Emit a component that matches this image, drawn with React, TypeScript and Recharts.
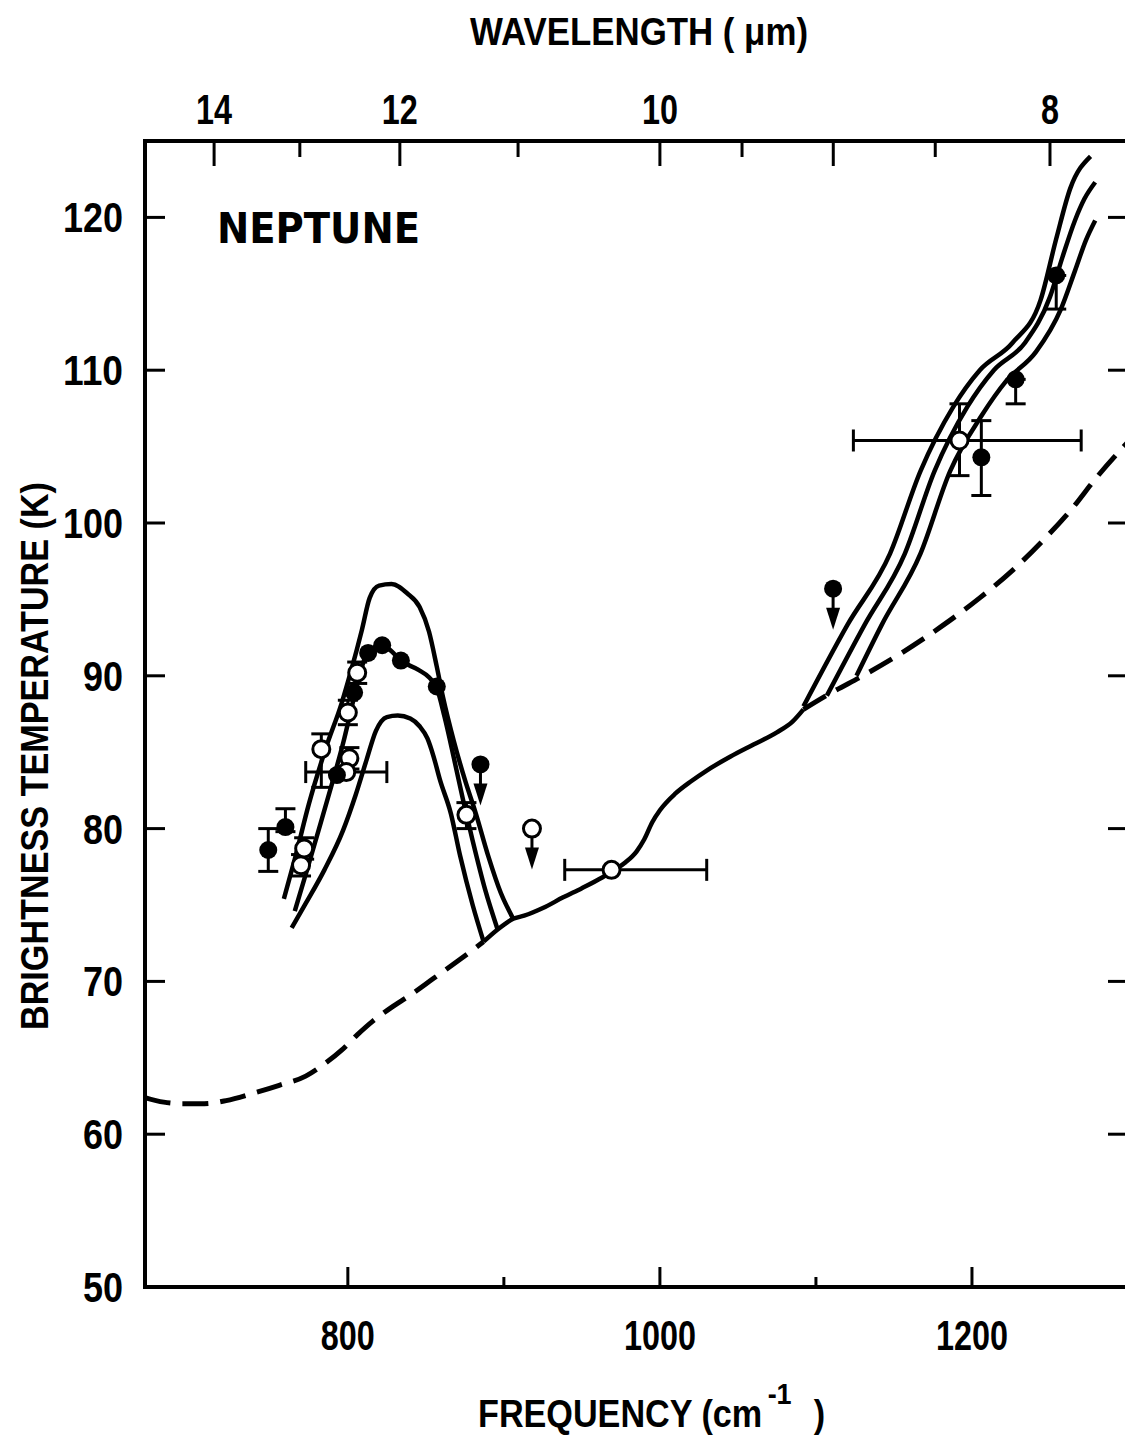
import React from 'react';
import { ComposedChart, Line, Scatter, XAxis, YAxis, ErrorBar } from 'recharts';

// ---------------- axes ----------------
const freqDomain: [number, number] = [670, 1300];
const tempDomain: [number, number] = [50, 125];
const freqTicks = [800, 900, 1000, 1100, 1200];
const freqTickLabels = ['800', '', '1000', '', '1200'];
const wavelengthTicks = [14, 13, 12, 11, 10, 9.5, 9, 8.5, 8];
const wavelengthTickLabels = ['14', '', '12', '', '10', '', '', '', '8'];
const wavelengthLongTicks = [14, 12, 10, 9, 8];
const tempTicks = [50, 60, 70, 80, 90, 100, 110, 120];
const rightTempTicks = [60, 70, 80, 90, 100, 110, 120];

// ---------------- baseline model ----------------
const baselineLeft = [
  { f: 670, t: 62.4 }, { f: 682, t: 62.1 }, { f: 695, t: 62.0 }, { f: 708, t: 62.0 },
  { f: 722, t: 62.2 }, { f: 740, t: 62.7 }, { f: 756, t: 63.2 }, { f: 773, t: 63.8 },
  { f: 785, t: 64.6 }, { f: 796, t: 65.5 }, { f: 806, t: 66.5 }, { f: 816, t: 67.4 },
  { f: 828, t: 68.3 }, { f: 840, t: 69.1 }, { f: 855, t: 70.2 }, { f: 870, t: 71.3 },
  { f: 887, t: 72.6 },
];
const baselineMid = [
  { f: 887, t: 72.6 }, { f: 896, t: 73.4 }, { f: 906, t: 74.1 }, { f: 913, t: 74.3 },
  { f: 925, t: 74.8 }, { f: 938, t: 75.5 }, { f: 950, t: 76.1 }, { f: 963, t: 76.8 },
  { f: 971, t: 77.3 }, { f: 978, t: 77.8 }, { f: 985, t: 78.5 }, { f: 990, t: 79.3 },
  { f: 995, t: 80.4 }, { f: 1000, t: 81.2 }, { f: 1010, t: 82.3 }, { f: 1020, t: 83.1 },
  { f: 1030, t: 83.8 }, { f: 1045, t: 84.7 }, { f: 1060, t: 85.5 }, { f: 1075, t: 86.3 },
  { f: 1085, t: 87.0 }, { f: 1092, t: 87.8 },
];
const baselineRight = [
  { f: 1092, t: 87.8 }, { f: 1110, t: 88.9 }, { f: 1130, t: 90.0 }, { f: 1155, t: 91.5 },
  { f: 1180, t: 93.2 }, { f: 1205, t: 95.1 }, { f: 1226, t: 96.9 }, { f: 1245, t: 98.8 },
  { f: 1263, t: 100.8 }, { f: 1280, t: 103.0 }, { f: 1300, t: 105.3 },
];

// ---------------- 12 um band models ----------------
const bandUpper = [
  { f: 759, t: 75.4 }, { f: 766, t: 78.0 }, { f: 775, t: 81.6 }, { f: 786, t: 85.3 },
  { f: 796, t: 88.2 }, { f: 802, t: 90.3 }, { f: 809, t: 93.0 }, { f: 814, t: 95.1 },
  { f: 820, t: 95.9 }, { f: 828, t: 96.0 }, { f: 838, t: 95.4 }, { f: 846, t: 94.5 },
  { f: 852, t: 92.9 }, { f: 857, t: 90.6 }, { f: 861, t: 88.6 }, { f: 868, t: 85.7 },
  { f: 875, t: 83.2 }, { f: 882, t: 81.0 }, { f: 890, t: 78.2 }, { f: 898, t: 75.8 },
  { f: 906, t: 74.1 },
];
const bandMiddle = [
  { f: 766, t: 74.6 }, { f: 773, t: 77.0 }, { f: 781, t: 79.8 }, { f: 790, t: 83.0 },
  { f: 797, t: 85.6 }, { f: 804, t: 88.6 }, { f: 809, t: 90.6 }, { f: 813, t: 91.5 },
  { f: 822, t: 92.0 }, { f: 828, t: 91.6 }, { f: 834, t: 91.0 }, { f: 845, t: 90.4 },
  { f: 852, t: 89.9 }, { f: 857, t: 89.2 }, { f: 862, t: 87.3 }, { f: 868, t: 84.6 },
  { f: 874, t: 81.8 }, { f: 880, t: 79.2 }, { f: 888, t: 76.0 }, { f: 896, t: 73.4 },
];
const bandLower = [
  { f: 764, t: 73.5 }, { f: 773, t: 75.1 }, { f: 785, t: 77.3 }, { f: 797, t: 79.9 },
  { f: 805, t: 82.2 }, { f: 812, t: 84.5 }, { f: 818, t: 86.4 }, { f: 825, t: 87.3 },
  { f: 832, t: 87.4 }, { f: 840, t: 87.2 }, { f: 846, t: 86.7 }, { f: 851, t: 85.9 },
  { f: 855, t: 84.7 }, { f: 859, t: 83.2 }, { f: 866, t: 81.0 }, { f: 872, t: 78.2 },
  { f: 880, t: 75.0 }, { f: 887, t: 72.6 },
];

// ---------------- 8 um band models ----------------
const highUpper = [
  { f: 1092, t: 88.0 }, { f: 1120, t: 93.3 }, { f: 1147.5, t: 98.0 }, { f: 1167, t: 103.4 },
  { f: 1188, t: 107.6 }, { f: 1205, t: 110.0 }, { f: 1226, t: 111.8 }, { f: 1244, t: 114.6 },
  { f: 1254, t: 118.6 }, { f: 1263, t: 121.9 }, { f: 1276, t: 124.0 },
];
const highMiddle = [
  { f: 1107, t: 88.7 }, { f: 1131, t: 93.3 }, { f: 1157, t: 98.0 }, { f: 1176, t: 103.4 },
  { f: 1197, t: 107.6 }, { f: 1214, t: 110.0 }, { f: 1234, t: 111.8 }, { f: 1250, t: 114.8 },
  { f: 1258, t: 117.4 }, { f: 1266, t: 119.8 }, { f: 1272, t: 121.2 }, { f: 1279, t: 122.3 },
];
const highLower = [
  { f: 1126, t: 90.0 }, { f: 1142, t: 93.3 }, { f: 1167, t: 98.0 }, { f: 1186, t: 103.4 },
  { f: 1206, t: 107.0 }, { f: 1222, t: 109.3 }, { f: 1241, t: 111.2 }, { f: 1257, t: 114.0 },
  { f: 1266, t: 116.5 }, { f: 1273, t: 118.5 }, { f: 1279, t: 119.8 },
];

// ---------------- observations ----------------
const filledPlain = [
  { f: 793, t: 83.5 }, { f: 804, t: 88.9 }, { f: 813, t: 91.5 }, { f: 822, t: 92.0 },
  { f: 834, t: 91.0 }, { f: 857, t: 89.3 },
];
const filledErrY = [
  { f: 749, t: 78.6, ey: [1.4, 1.4] }, { f: 760, t: 80.1, ey: [0.3, 1.2] },
  { f: 1206, t: 104.3, ey: [2.5, 2.4] }, { f: 1228, t: 109.4, ey: [1.6, 0] },
  { f: 1254, t: 116.2, ey: [2.2, 0] },
];
const openErrY = [
  { f: 770, t: 77.6, ey: [0.7, 0.7] }, { f: 772, t: 78.7, ey: [0.7, 0.7] },
  { f: 783, t: 85.2, ey: [2.5, 1.0] }, { f: 801, t: 84.6, ey: [0.7, 0.7] },
  { f: 800, t: 87.6, ey: [0.8, 0.8] }, { f: 806, t: 90.2, ey: [0.7, 0.7] },
  { f: 876, t: 80.9, ey: [0.9, 0.8] },
];
const openErrX = [
  { f: 799, t: 83.7, ex: [26, 26] }, { f: 969, t: 77.3, ex: [30, 61] },
];
const openErrXY = [
  { f: 1192, t: 105.4, ex: [68, 78], ey: [2.3, 2.4] },
];
const filledUpperLimits = [{ f: 885, t: 84.2 }, { f: 1111, t: 95.7 }];
const openUpperLimits = [{ f: 918, t: 80.0 }];

// ---------------- rendering helpers ----------------
const CHART_W = 1160;
const CHART_H = 1449;
const PLOT_LEFT = 145;
const PLOT_TOP = 141;
const PLOT_RIGHT = 1128;
const PLOT_BOTTOM = 1287;
const NUM_FONT = "'Liberation Sans', Arial, sans-serif";

const FilledDot = (p: any) => <circle cx={p.cx} cy={p.cy} r={9} fill="#000" />;
const OpenDot = (p: any) => (
  <circle cx={p.cx} cy={p.cy} r={8.5} fill="#fff" stroke="#000" strokeWidth={3} />
);
const LimitDot = (open: boolean) => (p: any) => (
  <g>
    <line x1={p.cx} x2={p.cx} y1={p.cy} y2={p.cy + 24} stroke="#000" strokeWidth={3} />
    <polygon
      points={`${p.cx - 7},${p.cy + 19} ${p.cx + 7},${p.cy + 19} ${p.cx},${p.cy + 41}`}
      fill="#000"
    />
    <circle cx={p.cx} cy={p.cy} r={open ? 8.5 : 9} fill={open ? '#fff' : '#000'} stroke="#000" strokeWidth={open ? 3 : 0} />
  </g>
);

const BottomTick = (props: any) => {
  const { x, y, payload } = props;
  const i = freqTicks.indexOf(payload.value);
  const label = i >= 0 ? freqTickLabels[i] : '';
  return (
    <g>
      <line x1={x} x2={x} y1={y} y2={y - (label ? 20 : 10)} stroke="#000" strokeWidth={3} />
      {label && (
        <text x={x} y={y + 63} textAnchor="middle" fontFamily={NUM_FONT} fontWeight="bold"
          fontSize={42} textLength={label.length * 18} lengthAdjust="spacingAndGlyphs" fill="#000">
          {label}
        </text>
      )}
    </g>
  );
};

const TopTick = (props: any) => {
  const { x, y, payload } = props;
  const i = wavelengthTicks.findIndex((w) => Math.abs(10000 / w - payload.value) < 0.01);
  const w = wavelengthTicks[i];
  const label = i >= 0 ? wavelengthTickLabels[i] : '';
  const long = wavelengthLongTicks.includes(w);
  return (
    <g>
      <line x1={x} x2={x} y1={y} y2={y + (long ? 25 : 16)} stroke="#000" strokeWidth={3} />
      {label && (
        <text x={x} y={y - 17} textAnchor="middle" fontFamily={NUM_FONT} fontWeight="bold"
          fontSize={42} textLength={label.length * 18} lengthAdjust="spacingAndGlyphs" fill="#000">
          {label}
        </text>
      )}
    </g>
  );
};

const LeftTick = (props: any) => {
  const { x, y, payload } = props;
  const label = String(payload.value);
  return (
    <g>
      {payload.value > tempDomain[0] && (
        <line x1={x} x2={x + 20} y1={y} y2={y} stroke="#000" strokeWidth={3} />
      )}
      <text x={x - 22} y={y + 15} textAnchor="end" fontFamily={NUM_FONT} fontWeight="bold"
        fontSize={42} textLength={label.length * 20} lengthAdjust="spacingAndGlyphs" fill="#000">
        {label}
      </text>
    </g>
  );
};

const RightTick = (props: any) => {
  const { x, y } = props;
  return <line x1={x - 20} x2={x} y1={y} y2={y} stroke="#000" strokeWidth={3} />;
};

const axisLine = { stroke: '#000', strokeWidth: 4, strokeLinecap: 'square' as const };

const curve = (data: any[], key: string, dashed = false) => (
  <Line
    key={key}
    data={data}
    dataKey="t"
    xAxisId="b"
    yAxisId="l"
    type="monotone"
    stroke="#000"
    strokeWidth={dashed ? 5 : 4.5}
    strokeDasharray={dashed ? '26 12' : undefined}
    dot={false}
    activeDot={false}
    isAnimationActive={false}
  />
);

export default function App() {
  return (
    <div style={{ position: 'absolute', left: 0, top: 0, width: 1125, height: 1449, overflow: 'hidden', background: '#fff' }}>
      <ComposedChart
        width={CHART_W}
        height={CHART_H}
        margin={{ top: 0, right: 0, bottom: 0, left: 0 }}
      >
        <XAxis xAxisId="b" dataKey="f" type="number" domain={freqDomain} allowDataOverflow
          ticks={freqTicks} interval={0} orientation="bottom" height={CHART_H - PLOT_BOTTOM}
          tickSize={0} tickMargin={0} tickLine={false} axisLine={axisLine} tick={BottomTick} />
        <XAxis xAxisId="t" dataKey="f" type="number" domain={freqDomain} allowDataOverflow
          ticks={wavelengthTicks.map((w) => 10000 / w)} interval={0} orientation="top" height={PLOT_TOP}
          tickSize={0} tickMargin={0} tickLine={false} axisLine={axisLine} tick={TopTick} />
        <YAxis yAxisId="l" dataKey="t" type="number" domain={tempDomain} allowDataOverflow
          ticks={tempTicks} interval={0} orientation="left" width={PLOT_LEFT}
          tickSize={0} tickMargin={0} tickLine={false} axisLine={axisLine} tick={LeftTick} />
        <YAxis yAxisId="r" dataKey="t" type="number" domain={tempDomain} allowDataOverflow
          ticks={rightTempTicks} interval={0} orientation="right" width={CHART_W - PLOT_RIGHT}
          tickSize={0} tickMargin={0} tickLine={false} axisLine={axisLine} tick={RightTick} />

        {curve(baselineLeft, 'bl', true)}
        {curve(baselineMid, 'bm')}
        {curve(baselineRight, 'br', true)}
        {curve(bandUpper, 'bu')}
        {curve(bandMiddle, 'bmid')}
        {curve(bandLower, 'blo')}
        {curve(highUpper, 'hu')}
        {curve(highMiddle, 'hm')}
        {curve(highLower, 'hl')}

        <Scatter data={filledErrY} dataKey="t" xAxisId="b" yAxisId="l" shape={FilledDot} isAnimationActive={false}>
          <ErrorBar dataKey="ey" direction="y" width={10} stroke="#000" strokeWidth={3} isAnimationActive={false} />
        </Scatter>
        <Scatter data={openErrY} dataKey="t" xAxisId="b" yAxisId="l" shape={OpenDot} isAnimationActive={false}>
          <ErrorBar dataKey="ey" direction="y" width={10} stroke="#000" strokeWidth={3} isAnimationActive={false} />
        </Scatter>
        <Scatter data={openErrX} dataKey="t" xAxisId="b" yAxisId="l" shape={OpenDot} isAnimationActive={false}>
          <ErrorBar dataKey="ex" direction="x" width={11} stroke="#000" strokeWidth={3} isAnimationActive={false} />
        </Scatter>
        <Scatter data={openErrXY} dataKey="t" xAxisId="b" yAxisId="l" shape={OpenDot} isAnimationActive={false}>
          <ErrorBar dataKey="ex" direction="x" width={11} stroke="#000" strokeWidth={3} isAnimationActive={false} />
          <ErrorBar dataKey="ey" direction="y" width={10} stroke="#000" strokeWidth={3} isAnimationActive={false} />
        </Scatter>
        <Scatter data={filledPlain} dataKey="t" xAxisId="b" yAxisId="l" shape={FilledDot} isAnimationActive={false} />
        <Scatter data={filledUpperLimits} dataKey="t" xAxisId="b" yAxisId="l" shape={LimitDot(false)} isAnimationActive={false} />
        <Scatter data={openUpperLimits} dataKey="t" xAxisId="b" yAxisId="l" shape={LimitDot(true)} isAnimationActive={false} />
      </ComposedChart>

      <svg width={1125} height={1449} style={{ position: 'absolute', left: 0, top: 0, pointerEvents: 'none' }}>
        <g fontFamily={NUM_FONT} fontWeight="bold" fill="#000">
          <text x={470} y={45} fontSize={38} textLength={338} lengthAdjust="spacingAndGlyphs">WAVELENGTH ( μm)</text>

          <text transform="translate(478 1427) scale(0.9 1)" fontSize={38}>
            FREQUENCY (cm<tspan dx={6} dy={-23} fontSize={30}>-1</tspan><tspan dx={14} dy={23}> )</tspan>
          </text>

          <text transform="translate(48 756) rotate(-90)" textAnchor="middle" fontSize={38}
            textLength={548} lengthAdjust="spacingAndGlyphs">BRIGHTNESS TEMPERATURE (K)</text>

          <text x={217} y={243} fontFamily="'DejaVu Sans', sans-serif" fontSize={42}
            textLength={203} lengthAdjust="spacingAndGlyphs">NEPTUNE</text>
        </g>
      </svg>
    </div>
  );
}
